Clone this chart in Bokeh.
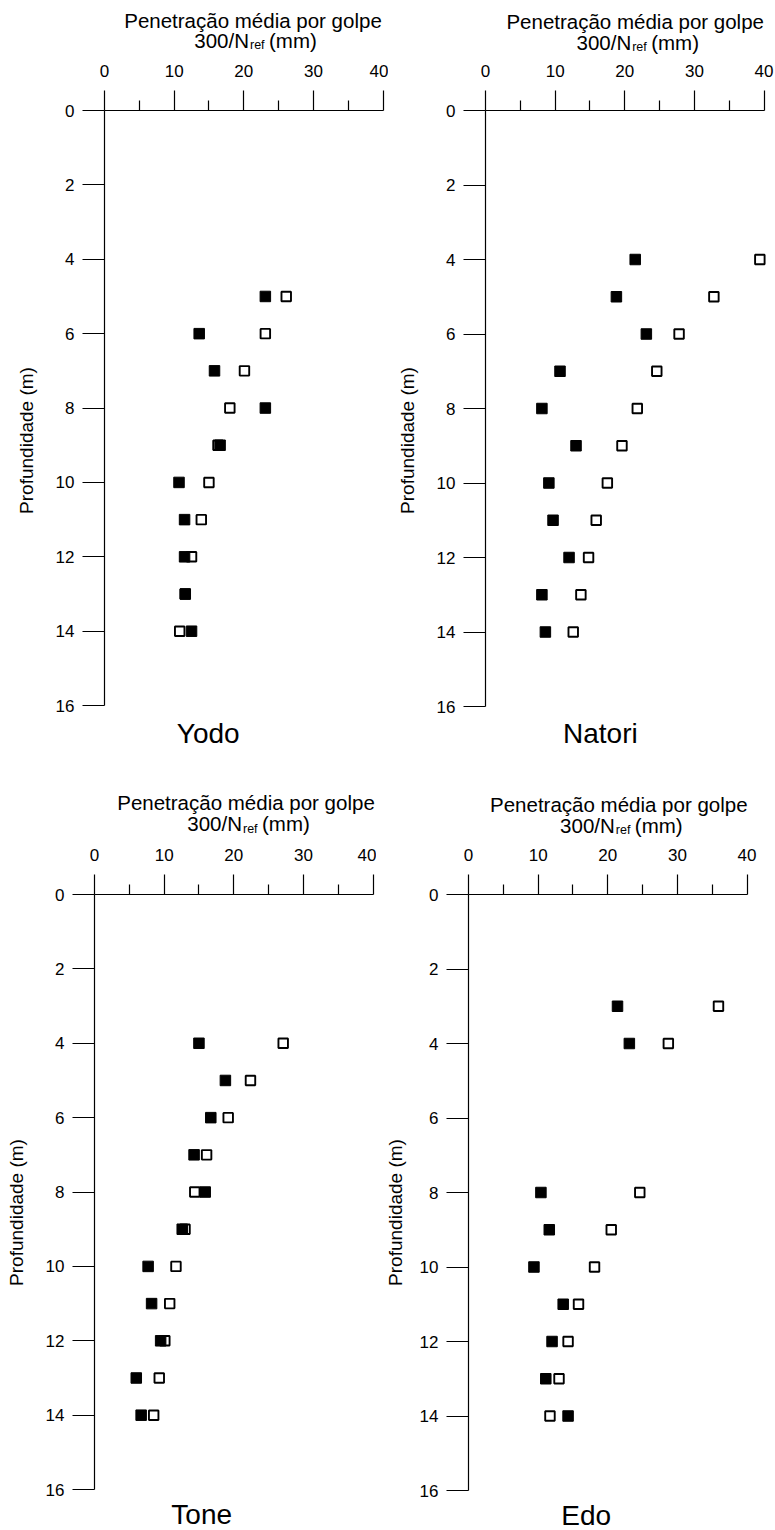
from bokeh.plotting import figure
from bokeh.models import Range1d, FixedTicker, Label
from bokeh.layouts import row, column
from bokeh.embed import file_html
from bokeh.resources import INLINE

# ---------------- data ----------------
depth_yodo = [5, 6, 7, 8, 9, 10, 11, 12, 13, 14]
yodo_filled = [23.1, 13.6, 15.8, 23.1, 16.6, 10.7, 11.5, 11.5, 11.6, 12.5]
yodo_open = [26.1, 23.1, 20.1, 18.0, 16.3, 15.0, 13.9, 12.5, 11.6, 10.8]

depth_natori = [4, 5, 6, 7, 8, 9, 10, 11, 12, 13, 14]
natori_filled = [21.5, 18.8, 23.1, 10.7, 8.1, 13.0, 9.1, 9.7, 12.0, 8.1, 8.6]
natori_open = [39.4, 32.8, 27.8, 24.6, 21.8, 19.6, 17.5, 15.9, 14.8, 13.7, 12.6]

depth_tone = [4, 5, 6, 7, 8, 9, 10, 11, 12, 13, 14]
tone_filled = [15.0, 18.8, 16.7, 14.3, 15.9, 12.6, 7.7, 8.2, 9.5, 6.0, 6.7]
tone_open = [27.1, 22.4, 19.2, 16.1, 14.4, 13.0, 11.7, 10.8, 10.1, 9.3, 8.5]

depth_edo = [3, 4, 8, 9, 10, 11, 12, 13, 14]
edo_filled = [21.4, 23.1, 10.4, 11.6, 9.4, 13.6, 12.0, 11.1, 14.3]
edo_open = [35.9, 28.7, 24.6, 20.5, 18.1, 15.8, 14.3, 13.0, 11.7]

x_major = [0, 10, 20, 30, 40]
x_minor = [5, 15, 25, 35]
y_ticks = [0, 2, 4, 6, 8, 10, 12, 14, 16]

title_line1 = "Penetração média por golpe"
title_300 = "300/N"
title_sub = "ref"
title_mm = "(mm)"
y_label = "Profundidade (m)"

FONT = "Liberation Sans"
PX_PER_M = 596 / 16.0


def make_title(w, h, cx, y1, y2, ysub):
    t = figure(width=w, height=h, x_range=Range1d(0, w), y_range=Range1d(h, 0),
               x_axis_location=None, y_axis_location=None, output_backend="svg",
               toolbar_location=None, title=None, min_border_left=0, min_border_right=0,
               min_border_top=0, min_border_bottom=0)
    t.grid.visible = False
    t.outline_line_color = None
    t.background_fill_color = "white"
    t.border_fill_color = "white"
    common = dict(text_baseline="middle", text_font=FONT, text_color="black")
    t.add_layout(Label(x=cx, y=y1, text=title_line1, text_align="center",
                       text_font_size="20.5px", **common))
    t.add_layout(Label(x=cx - 4, y=y2, text=title_300, text_align="right",
                       text_font_size="20.5px", **common))
    t.add_layout(Label(x=cx - 3, y=ysub, text=title_sub, text_align="left",
                       text_font_size="12.5px", **common))
    t.add_layout(Label(x=cx + 16, y=y2, text=title_mm, text_align="left",
                       text_font_size="20.5px", **common))
    return t


def make_panel(name, depths, filled, opened, w, h, bl, bt, name_x, name_depth, lab_standoff=16):
    frame_h = h - bt
    y_max = frame_h / PX_PER_M
    br = w - bl - 282
    p = figure(width=w, height=h, x_range=Range1d(0, 40.5), y_range=Range1d(y_max, 0),
               x_axis_location="above", output_backend="svg", toolbar_location=None,
               title=None, min_border_left=bl, min_border_right=br,
               min_border_top=bt, min_border_bottom=0)
    p.grid.visible = False
    p.outline_line_color = None
    p.background_fill_color = "white"
    p.border_fill_color = "white"

    xa = p.xaxis[0]
    xa.ticker = FixedTicker(ticks=x_major, minor_ticks=x_minor)
    xa.bounds = (0, 40)
    xa.major_tick_out = 20
    xa.major_tick_in = 0
    xa.minor_tick_out = 10
    xa.minor_tick_in = 0
    xa.major_label_standoff = 14
    xa.major_label_text_font = FONT
    xa.major_label_text_font_size = "17px"
    xa.major_label_text_color = "black"
    xa.axis_line_color = "black"
    xa.axis_line_width = 1.2
    xa.major_tick_line_color = "black"
    xa.major_tick_line_width = 1.2
    xa.minor_tick_line_color = "black"
    xa.minor_tick_line_width = 1.2

    ya = p.yaxis[0]
    ya.ticker = FixedTicker(ticks=y_ticks, minor_ticks=[])
    ya.bounds = (0, 16)
    ya.major_tick_out = 22
    ya.major_tick_in = 0
    ya.minor_tick_out = 0
    ya.minor_tick_in = 0
    ya.major_label_standoff = 8
    ya.major_label_text_font = FONT
    ya.major_label_text_font_size = "17px"
    ya.major_label_text_color = "black"
    ya.axis_line_color = "black"
    ya.axis_line_width = 1.2
    ya.major_tick_line_color = "black"
    ya.major_tick_line_width = 1.2
    ya.axis_label = y_label
    ya.axis_label_text_font = FONT
    ya.axis_label_text_font_size = "19px"
    ya.axis_label_text_font_style = "normal"
    ya.axis_label_text_color = "black"
    ya.axis_label_standoff = lab_standoff

    # open squares first, filled on top
    p.scatter(opened, depths, marker="square", size=9.5, fill_color="white",
              line_color="black", line_width=1.9)
    p.scatter(filled, depths, marker="square", size=10.5, fill_color="black",
              line_color="black", line_width=1)

    p.add_layout(Label(x=name_x, y=name_depth, text=name, text_align="center",
                       text_baseline="middle", text_font=FONT,
                       text_font_size="28px", text_color="black"))
    return p


W1, W2 = 388, 387          # top row widths
W3, W4 = 376, 399          # bottom row widths
T1H, P1H = 54, 716
T2H, P2H = 68, 692

t1 = make_title(W1, T1H, 252.5, 19.7, 40.0, 44.6)
t2 = make_title(W2, T1H, 246.7, 21.2, 41.5, 46.1)
p1 = make_panel("Yodo", depth_yodo, yodo_filled, yodo_open, W1, P1H, 104, 55, 14.9, 16.74)
p2 = make_panel("Natori", depth_natori, natori_filled, natori_open, W2, P1H, 97, 56, 16.5, 16.72)

t3 = make_title(W3, T2H, 245.5, 32.2, 53.4, 58.0)
t4 = make_title(W4, T2H, 242.3, 33.7, 54.9, 59.5)
p3 = make_panel("Tone", depth_tone, tone_filled, tone_open, W3, P2H, 94, 55, 15.4, 16.67)
p4 = make_panel("Edo", depth_edo, edo_filled, edo_open, W4, P2H, 92, 56, 16.9, 16.68,
                lab_standoff=11)

layout = column(row(t1, t2), row(p1, p2), row(t3, t4), row(p3, p4))
open("out.html", "w").write(file_html(layout, INLINE))
